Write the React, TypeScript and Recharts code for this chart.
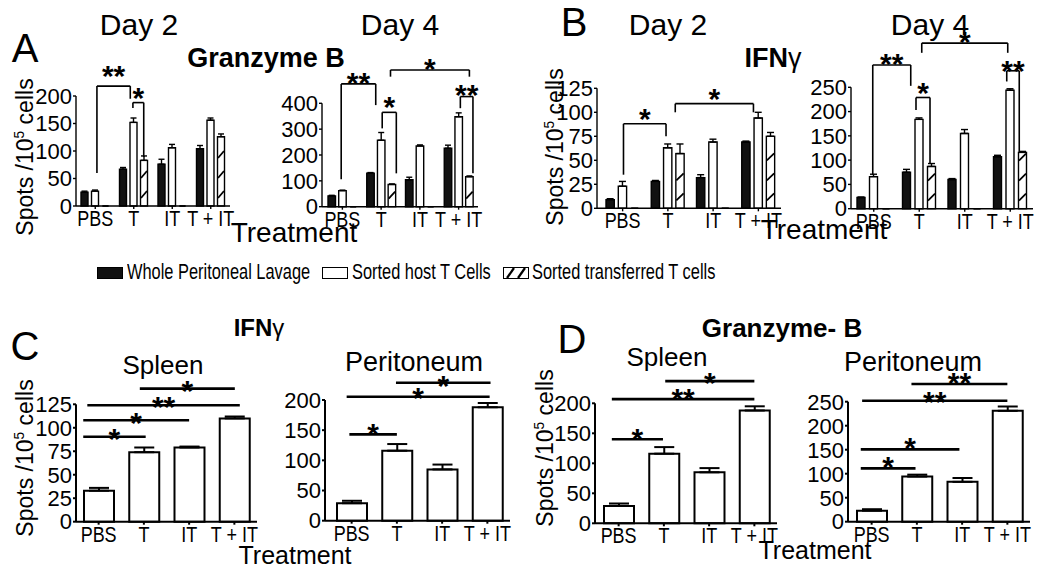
import React from 'react';
import { BarChart, Bar, XAxis, YAxis, ErrorBar, ReferenceLine, ReferenceDot } from 'recharts';

const SANS = "'Liberation Sans', Arial, sans-serif";

const treatments = ['PBS', 'T', 'IT', 'T + IT'];
const seriesNames = ['Whole Peritoneal Lavage', 'Sorted host T Cells', 'Sorted transferred T cells'];

// A - Granzyme B, day 2
const aDay2Whole = [25, 67, 76, 104];
const aDay2WholeErr = [2, 3, 9, 6];
const aDay2Host = [27, 152, 106, 156];
const aDay2HostErr = [2, 8, 6, 4];
const aDay2Transf = [0, 83, 0, 126];
const aDay2TransfErr = [0, 8, 0, 5];

// A - Granzyme B, day 4
const aDay4Whole = [42, 130, 104, 226];
const aDay4WholeErr = [2, 2, 10, 12];
const aDay4Host = [62, 257, 235, 348];
const aDay4HostErr = [2, 30, 4, 15];
const aDay4Transf = [0, 86, 0, 116];
const aDay4TransfErr = [0, 2, 0, 3];

// B - IFNg, day 2
const bDay2Whole = [9, 28, 32, 69];
const bDay2WholeErr = [1, 1, 3, 1];
const bDay2Host = [23, 63, 69, 94];
const bDay2HostErr = [5, 4, 3, 6];
const bDay2Transf = [0, 57, 0, 75];
const bDay2TransfErr = [0, 10, 0, 4];

// B - IFNg, day 4
const bDay4Whole = [23, 75, 60, 107];
const bDay4WholeErr = [1, 6, 2, 3];
const bDay4Host = [66, 184, 155, 244];
const bDay4HostErr = [5, 3, 8, 3];
const bDay4Transf = [0, 87, 0, 116];
const bDay4TransfErr = [0, 6, 0, 2];

// C - IFNg, D - Granzyme-B
const cSpleen = [33, 74, 79, 110];
const cSpleenErr = [3, 5, 1, 2];
const cPerit = [29, 116, 85, 188];
const cPeritErr = [4, 11, 8, 7];
const dSpleen = [29, 116, 85, 188];
const dSpleenErr = [4, 11, 7, 7];
const dPerit = [23, 94, 83, 231];
const dPeritErr = [3, 4, 8, 9];

const ticks125 = [0, 25, 50, 75, 100, 125];
const ticks200 = [0, 50, 100, 150, 200];
const ticks250 = [0, 50, 100, 150, 200, 250];
const ticks400 = [0, 100, 200, 300, 400];

// significance marks: x in category units (0..4), y in data units
type Mark = { x1: number; x2: number; y: number; d1?: number; d2?: number; text: string; lift: number };
const bx = (cat: number, bar: number, slot: number) => cat + 0.5 + (bar - 1) * slot;

const aDay2Marks: Mark[] = [
  { x1: bx(0, 1.16, 0.273), x2: bx(1, 0.67, 0.273), y: 218, d1: 60, d2: 195, text: '**', lift: 17 },
  { x1: bx(1, 0.92, 0.273), x2: bx(1, 1.95, 0.273), y: 188, d1: 178, d2: 89, text: '*', lift: 12 },
];
const aDay4Marks: Mark[] = [
  { x1: bx(0, 0.89, 0.278), x2: bx(1, 0.5, 0.278), y: 475, d1: 106, d2: 393, text: '**', lift: 8 },
  { x1: bx(1, 1.1, 0.278), x2: bx(1, 2.41, 0.278), y: 365, d1: 303, d2: 129, text: '*', lift: 12 },
  { x1: bx(1, 1.87, 0.278), x2: bx(3, 2.0, 0.278), y: 529, d1: 503, d2: 503, text: '*', lift: 8 },
  { x1: bx(3, 1.16, 0.278), x2: bx(3, 2.33, 0.278), y: 426, d1: 381, d2: 129, text: '**', lift: 9 },
];
const bDay2Marks: Mark[] = [
  { x1: bx(0, 1.07, 0.272), x2: bx(1, 0.85, 0.272), y: 88, d1: 35, d2: 75, text: '*', lift: 12 },
  { x1: bx(1, 1.6, 0.272), x2: bx(3, 0.6, 0.272), y: 109, d1: 100, d2: 100, text: '*', lift: 12 },
];
const bDay4Marks: Mark[] = [
  { x1: bx(0, 0.92, 0.275), x2: bx(1, 0.32, 0.275), y: 296, d1: 70, d2: 253, text: '**', lift: 8 },
  { x1: bx(1, 0.74, 0.275), x2: bx(1, 1.86, 0.275), y: 229, d1: 203, d2: 93, text: '*', lift: 11 },
  { x1: bx(1, 1.2, 0.275), x2: bx(3, 0.8, 0.275), y: 341, d1: 321, d2: 321, text: '*', lift: 8 },
  { x1: bx(3, 0.72, 0.275), x2: bx(3, 1.72, 0.275), y: 284, d1: 262, d2: 117, text: '**', lift: 7 },
];
const cSpleenMarks: Mark[] = [
  { x1: 0.16, x2: 1.54, y: 90.5, text: '*', lift: 5 },
  { x1: 0.16, x2: 2.5, y: 108, text: '*', lift: 4 },
  { x1: 0.25, x2: 3.62, y: 124, text: '**', lift: 5 },
  { x1: 1.41, x2: 3.51, y: 141.7, text: '*', lift: 5 },
];
const cPeritMarks: Mark[] = [
  { x1: 0.45, x2: 1.5, y: 143, text: '*', lift: 7 },
  { x1: 0.39, x2: 3.55, y: 205.5, text: '*', lift: 6 },
  { x1: 1.48, x2: 3.57, y: 228.7, text: '*', lift: 4 },
];
const dSpleenMarks: Mark[] = [
  { x1: 0.35, x2: 1.48, y: 140, text: '*', lift: 7 },
  { x1: 0.35, x2: 3.5, y: 207, text: '**', lift: 7 },
  { x1: 1.53, x2: 3.5, y: 237, text: '*', lift: 5 },
];
const dPeritMarks: Mark[] = [
  { x1: 0.26, x2: 1.47, y: 111, text: '*', lift: 8 },
  { x1: 0.26, x2: 2.44, y: 150.7, text: '*', lift: 8 },
  { x1: 0.29, x2: 3.5, y: 252, text: '**', lift: 6 },
  { x1: 1.38, x2: 3.5, y: 286.8, text: '**', lift: 8 },
];

function rows(cols: number[][], errs: number[][]) {
  return treatments.map((name, i) => {
    const row: any = { name, pos: i + 0.5 };
    cols.forEach((c, k) => {
      row[`s${k}`] = c[i];
      row[`e${k}`] = [0, errs[k][i]];
    });
    return row;
  });
}

function HatchBar(props: any) {
  const { x, y, width, height, sw } = props;
  if (!height || height <= 0) return null;
  const marks = [];
  for (let yb = y + height - 8; yb - 7 > y; yb -= 20) {
    marks.push(
      <line key={yb} x1={x + 0.5} y1={yb} x2={x + width - 0.5} y2={yb - 7} stroke="#000" strokeWidth={1.8} />
    );
  }
  return (
    <g>
      <rect x={x} y={y} width={width} height={height} fill="#fff" stroke="#000" strokeWidth={sw} />
      {marks}
    </g>
  );
}

// condensed category labels (the original uses a narrow face)
function NarrowTick(props: any) {
  const { x, y, payload } = props;
  return (
    <g transform={`translate(${x},${y})`}>
      <text transform="scale(0.8,1)" textAnchor="middle" dy="0.72em" fontSize={22.5} fontFamily={SANS} fill="#000">
        {payload.value}
      </text>
    </g>
  );
}

type Kind = 'solid' | 'open' | 'hatch';

interface PanelProps {
  axisX: number;
  plotRight: number;
  yTop: number;
  yBottom: number;
  top: number;
  pad?: number;
  max: number;
  ticks: number[];
  data: any[];
  kinds: Kind[];
  marks: Mark[];
  barSize: number;
  barGap?: number;
  capW: number;
  thick?: boolean;
}

function Panel(p: PanelProps) {
  const left = p.axisX - 50;
  const width = p.plotRight + 28 - left;
  const height = p.yBottom + 37 - p.top;
  const lw = p.thick ? 2 : 1.4;
  const mw = p.thick ? 2.6 : 1.6;
  const pad = { left: p.pad ?? 0, right: 0 };
  return (
    <div style={{ position: 'absolute', left, top: p.top }}>
      <BarChart
        width={width}
        height={height}
        data={p.data}
        margin={{ top: p.yTop - p.top, right: 28, bottom: 2, left: 0 }}
        barSize={p.barSize}
        barGap={p.barGap ?? 4}
      >
        <XAxis
          dataKey="name"
          interval={0}
          height={35}
          padding={pad}
          tickSize={3}
          tickMargin={1}
          axisLine={{ stroke: '#000', strokeWidth: lw }}
          tickLine={{ stroke: '#000', strokeWidth: lw }}
          tick={<NarrowTick />}
        />
        <XAxis xAxisId="n" type="number" dataKey="pos" domain={[0, 4]} allowDataOverflow padding={pad} hide />
        <YAxis
          width={50}
          domain={[0, p.max]}
          ticks={p.ticks}
          interval={0}
          tickSize={3}
          tickMargin={1}
          axisLine={{ stroke: '#000', strokeWidth: lw }}
          tickLine={{ stroke: '#000', strokeWidth: lw }}
          tick={{ fill: '#000', fontSize: 22, fontFamily: SANS }}
        />
        {p.kinds.map((kind, k) => (
          <Bar
            key={k}
            dataKey={`s${k}`}
            isAnimationActive={false}
            fill={kind === 'solid' ? '#111' : '#fff'}
            stroke="#000"
            strokeWidth={lw}
            shape={kind === 'hatch' ? (props: any) => <HatchBar {...props} sw={lw} /> : undefined}
          >
            <ErrorBar dataKey={`e${k}`} direction="y" width={p.capW} stroke="#000" strokeWidth={lw} />
          </Bar>
        ))}
        {p.marks.flatMap((m, i) => {
          const els = [
            <ReferenceLine
              key={`h${i}`}
              xAxisId="n"
              segment={[{ x: m.x1, y: m.y }, { x: m.x2, y: m.y }]}
              stroke="#000"
              strokeWidth={mw}
              ifOverflow="visible"
            />,
          ];
          if (m.d1 !== undefined)
            els.push(
              <ReferenceLine key={`a${i}`} xAxisId="n" segment={[{ x: m.x1, y: m.y }, { x: m.x1, y: m.d1 }]} stroke="#000" strokeWidth={mw} ifOverflow="visible" />
            );
          if (m.d2 !== undefined)
            els.push(
              <ReferenceLine key={`b${i}`} xAxisId="n" segment={[{ x: m.x2, y: m.y }, { x: m.x2, y: m.d2 }]} stroke="#000" strokeWidth={mw} ifOverflow="visible" />
            );
          els.push(
            <ReferenceDot
              key={`t${i}`}
              xAxisId="n"
              x={(m.x1 + m.x2) / 2}
              y={m.y}
              r={0}
              ifOverflow="visible"
              shape={(s: any) => (
                <text x={s.cx} y={s.cy - m.lift + 17} textAnchor="middle" fontSize={30} fontWeight="bold" fontFamily={SANS} fill="#000">
                  {m.text}
                </text>
              )}
            />
          );
          return els;
        })}
      </BarChart>
    </div>
  );
}

function Txt({ x, y, size, bold, children }: any) {
  return (
    <div
      style={{
        position: 'absolute',
        left: x,
        top: y,
        transform: 'translate(-50%, -50%)',
        fontFamily: SANS,
        fontSize: size,
        fontWeight: bold ? 'bold' : 'normal',
        whiteSpace: 'nowrap',
        lineHeight: 1,
        color: '#000',
      }}
    >
      {children}
    </div>
  );
}

function YLabel({ x, y }: { x: number; y: number }) {
  return (
    <div
      style={{
        position: 'absolute',
        left: x,
        top: y,
        transform: 'translate(-50%, -50%) rotate(-90deg)',
        fontFamily: SANS,
        fontSize: 23,
        whiteSpace: 'nowrap',
        lineHeight: 1,
      }}
    >
      Spots /10<span style={{ fontSize: '0.6em', verticalAlign: '0.7em' }}>5</span> cells
    </div>
  );
}

function Swatch({ kind }: { kind: Kind }) {
  return (
    <svg width={26} height={12} style={{ display: 'block' }}>
      <rect x={0.5} y={0.5} width={25} height={11} fill={kind === 'solid' ? '#111' : '#fff'} stroke="#000" />
      {kind === 'hatch' && (
        <g stroke="#000" strokeWidth={2.2}>
          <line x1={4} y1={11} x2={11} y2={1} />
          <line x1={15} y1={11} x2={22} y2={1} />
        </g>
      )}
    </svg>
  );
}

const groupKinds: Kind[] = ['solid', 'open', 'hatch'];
const legendSpots = [
  { sx: 97, tx: 127 },
  { sx: 322, tx: 352 },
  { sx: 503, tx: 532 },
];

export default function App() {
  return (
    <div style={{ position: 'absolute', left: 0, top: 0, width: 1050, height: 584, background: '#fff', overflow: 'hidden' }}>
      <Panel axisX={76} plotRight={230} yTop={96} yBottom={206} top={20} max={200} ticks={ticks200}
        data={rows([aDay2Whole, aDay2Host, aDay2Transf], [aDay2WholeErr, aDay2HostErr, aDay2TransfErr])}
        kinds={groupKinds} marks={aDay2Marks} barSize={7} barGap={3.5} capW={3} />
      <Panel axisX={322} pad={1} plotRight={478} yTop={103.3} yBottom={206.7} top={20} max={400} ticks={ticks400}
        data={rows([aDay4Whole, aDay4Host, aDay4Transf], [aDay4WholeErr, aDay4HostErr, aDay4TransfErr])}
        kinds={groupKinds} marks={aDay4Marks} barSize={7.5} barGap={3.2} capW={3} />
      <Panel axisX={597} pad={3} plotRight={781} yTop={88.3} yBottom={208.3} top={20} max={125} ticks={ticks125}
        data={rows([bDay2Whole, bDay2Host, bDay2Transf], [bDay2WholeErr, bDay2HostErr, bDay2TransfErr])}
        kinds={groupKinds} marks={bDay2Marks} barSize={8.3} barGap={4} capW={3.5} />
      <Panel axisX={851} plotRight={1033} yTop={87.3} yBottom={208.7} top={20} max={250} ticks={ticks250}
        data={rows([bDay4Whole, bDay4Host, bDay4Transf], [bDay4WholeErr, bDay4HostErr, bDay4TransfErr])}
        kinds={groupKinds} marks={bDay4Marks} barSize={8} barGap={4.5} capW={3.5} />

      <Panel axisX={76} plotRight={257} yTop={404.3} yBottom={521.7} top={360} max={125} ticks={ticks125}
        data={rows([cSpleen], [cSpleenErr])} kinds={['open']} marks={cSpleenMarks} barSize={30} capW={10} thick />
      <Panel axisX={325} pad={4} plotRight={510} yTop={400} yBottom={520.7} top={360} max={200} ticks={ticks200}
        data={rows([cPerit], [cPeritErr])} kinds={['open']} marks={cPeritMarks} barSize={30} capW={10} thick />
      <Panel axisX={595} pad={1} plotRight={777} yTop={403.3} yBottom={523.3} top={360} max={200} ticks={ticks200}
        data={rows([dSpleen], [dSpleenErr])} kinds={['open']} marks={dSpleenMarks} barSize={30} capW={10} thick />
      <Panel axisX={848} pad={1} plotRight={1030} yTop={401.7} yBottom={521.7} top={360} max={250} ticks={ticks250}
        data={rows([dPerit], [dPeritErr])} kinds={['open']} marks={dPeritMarks} barSize={30} capW={10} thick />

      <Txt x={139} y={25} size={30}>Day 2</Txt>
      <Txt x={400} y={25} size={30}>Day 4</Txt>
      <Txt x={668} y={25} size={30}>Day 2</Txt>
      <Txt x={930} y={25} size={30}>Day 4</Txt>
      <Txt x={25} y={48} size={40}>A</Txt>
      <Txt x={574} y={22} size={40}>B</Txt>
      <Txt x={25} y={346} size={40}>C</Txt>
      <Txt x={572} y={339} size={40}>D</Txt>
      <Txt x={266} y={58} size={27} bold>Granzyme B</Txt>
      <Txt x={773} y={58} size={27}><b>IFN</b>γ</Txt>
      <Txt x={259} y={328} size={24}><b>IFN</b>γ</Txt>
      <Txt x={782} y={328} size={26} bold>Granzyme- B</Txt>
      <Txt x={163} y={365} size={26}>Spleen</Txt>
      <Txt x={414} y={362} size={27}>Peritoneum</Txt>
      <Txt x={667} y={357} size={26}>Spleen</Txt>
      <Txt x={913} y={362} size={27}>Peritoneum</Txt>
      <Txt x={294} y={233} size={28}>Treatment</Txt>
      <Txt x={824} y={230} size={28}>Treatment</Txt>
      <Txt x={295} y={555} size={25}>Treatment</Txt>
      <Txt x={815} y={550} size={25}>Treatment</Txt>
      <YLabel x={25} y={157} />
      <YLabel x={555} y={147} />
      <YLabel x={25} y={458} />
      <YLabel x={545} y={448} />

      {seriesNames.map((name, k) => (
        <React.Fragment key={name}>
          <div style={{ position: 'absolute', left: legendSpots[k].sx, top: 267 }}>
            <Swatch kind={groupKinds[k]} />
          </div>
          <div
            style={{
              position: 'absolute',
              left: legendSpots[k].tx,
              top: 260,
              fontFamily: SANS,
              fontSize: 22,
              lineHeight: 1.1,
              whiteSpace: 'nowrap',
              transform: 'scaleX(0.745)',
              transformOrigin: 'left center',
            }}
          >
            {name}
          </div>
        </React.Fragment>
      ))}
    </div>
  );
}
